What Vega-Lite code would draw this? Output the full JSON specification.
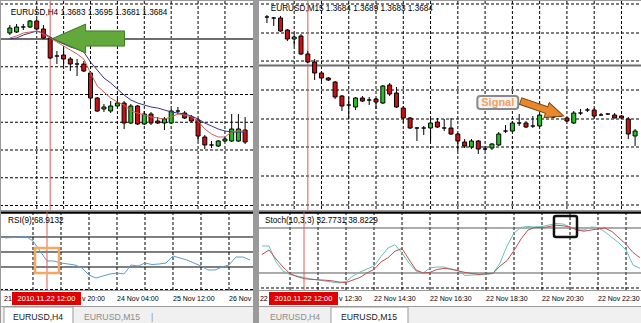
{
"$schema":"https://vega.github.io/schema/vega-lite/v6.json",
"padding":0,
"background":"#9a9a9a",
"columns":2,
"spacing":{"row":0,"column":4},
"config":{"view":{"stroke":null},"font":"Liberation Sans","axis":{"grid":false,"labels":false,"ticks":false,"domain":false}},
"datasets":{
"h4":[
{"i":1,"o":1.3708,"h":1.3740,"l":1.3700,"c":1.3728,"mb":1.3684,"mr":1.3688,"rsi":68.7},
{"i":2,"o":1.3712,"h":1.3744,"l":1.3708,"c":1.3732,"mb":1.3688,"mr":1.3696,"rsi":69.3},
{"i":3,"o":1.3732,"h":1.3744,"l":1.3720,"c":1.3732,"mb":1.3700,"mr":1.3708,"rsi":70},
{"i":4,"o":1.3732,"h":1.3760,"l":1.3728,"c":1.3756,"mb":1.3708,"mr":1.3712,"rsi":70.7},
{"i":5,"o":1.3756,"h":1.3764,"l":1.3720,"c":1.3724,"mb":1.3716,"mr":1.3716,"rsi":64.7},
{"i":6,"o":1.3724,"h":1.3740,"l":1.3684,"c":1.3688,"mb":1.3708,"mr":1.3704,"rsi":51.3},
{"i":7,"o":1.3688,"h":1.3692,"l":1.3604,"c":1.3608,"mb":1.3692,"mr":1.3688,"rsi":38},
{"i":8,"o":1.3616,"h":1.3636,"l":1.3584,"c":1.3616,"mb":1.3676,"mr":1.3672,"rsi":38},
{"i":9,"o":1.3620,"h":1.3648,"l":1.3576,"c":1.3604,"mb":1.3664,"mr":1.3656,"rsi":35.3},
{"i":10,"o":1.3604,"h":1.3612,"l":1.3556,"c":1.3584,"mb":1.3652,"mr":1.3640,"rsi":34},
{"i":11,"o":1.3584,"h":1.3604,"l":1.3536,"c":1.3584,"mb":1.3644,"mr":1.3624,"rsi":32.7},
{"i":12,"o":1.3584,"h":1.3596,"l":1.3552,"c":1.3556,"mb":1.3632,"mr":1.3604,"rsi":28.7},
{"i":13,"o":1.3548,"h":1.3556,"l":1.3416,"c":1.3448,"mb":1.3592,"mr":1.3548,"rsi":19.3},
{"i":14,"o":1.3448,"h":1.3452,"l":1.3392,"c":1.3396,"mb":1.3560,"mr":1.3496,"rsi":15.3},
{"i":15,"o":1.3404,"h":1.3424,"l":1.3392,"c":1.3412,"mb":1.3528,"mr":1.3472,"rsi":18},
{"i":16,"o":1.3396,"h":1.3436,"l":1.3388,"c":1.3416,"mb":1.3508,"mr":1.3448,"rsi":20.7},
{"i":17,"o":1.3416,"h":1.3444,"l":1.3412,"c":1.3428,"mb":1.3484,"mr":1.3432,"rsi":22},
{"i":18,"o":1.3428,"h":1.3436,"l":1.3324,"c":1.3348,"mb":1.3460,"mr":1.3420,"rsi":20.7},
{"i":19,"o":1.3348,"h":1.3424,"l":1.3344,"c":1.3416,"mb":1.3440,"mr":1.3396,"rsi":32.7},
{"i":20,"o":1.3416,"h":1.3420,"l":1.3340,"c":1.3344,"mb":1.3428,"mr":1.3388,"rsi":31.3},
{"i":21,"o":1.3344,"h":1.3396,"l":1.3340,"c":1.3384,"mb":1.3420,"mr":1.3380,"rsi":35.3},
{"i":22,"o":1.3384,"h":1.3392,"l":1.3340,"c":1.3348,"mb":1.3412,"mr":1.3372,"rsi":33.3},
{"i":23,"o":1.3356,"h":1.3372,"l":1.3344,"c":1.3348,"mb":1.3408,"mr":1.3368,"rsi":34},
{"i":24,"o":1.3348,"h":1.3372,"l":1.3320,"c":1.3364,"mb":1.3400,"mr":1.3364,"rsi":35.3},
{"i":25,"o":1.3348,"h":1.3404,"l":1.3344,"c":1.3396,"mb":1.3392,"mr":1.3372,"rsi":44.7},
{"i":26,"o":1.3396,"h":1.3412,"l":1.3384,"c":1.3396,"mb":1.3388,"mr":1.3384,"rsi":42},
{"i":27,"o":1.3388,"h":1.3396,"l":1.3364,"c":1.3368,"mb":1.3384,"mr":1.3380,"rsi":39.3},
{"i":28,"o":1.3372,"h":1.3380,"l":1.3352,"c":1.3356,"mb":1.3376,"mr":1.3372,"rsi":35.3},
{"i":29,"o":1.3360,"h":1.3368,"l":1.3276,"c":1.3296,"mb":1.3364,"mr":1.3356,"rsi":31.3},
{"i":30,"o":1.3292,"h":1.3300,"l":1.3244,"c":1.3260,"mb":1.3348,"mr":1.3324,"rsi":26},
{"i":31,"o":1.3260,"h":1.3276,"l":1.3248,"c":1.3260,"mb":1.3336,"mr":1.3304,"rsi":26},
{"i":32,"o":1.3256,"h":1.3280,"l":1.3252,"c":1.3276,"mb":1.3324,"mr":1.3292,"rsi":30},
{"i":33,"o":1.3276,"h":1.3292,"l":1.3272,"c":1.3284,"mb":1.3316,"mr":1.3292,"rsi":32.7},
{"i":34,"o":1.3276,"h":1.3384,"l":1.3272,"c":1.3324,"mb":1.3312,"mr":1.3312,"rsi":43.3},
{"i":35,"o":1.3276,"h":1.3384,"l":1.3272,"c":1.3324,"mb":1.3312,"mr":1.3316,"rsi":43.3},
{"i":36,"o":1.3320,"h":1.3372,"l":1.3264,"c":1.3272,"mb":1.3312,"mr":1.3316,"rsi":39.3}
],
"m15":[
{"i":1,"o":1.3732,"h":1.3734,"l":1.3726,"c":1.3732,"k":56,"d":44.7},
{"i":2,"o":1.3731,"h":1.3732,"l":1.3723,"c":1.3731,"k":56,"d":50.7},
{"i":3,"o":1.3731,"h":1.3733,"l":1.3717,"c":1.3718,"k":34.7,"d":38.7},
{"i":4,"o":1.3719,"h":1.3720,"l":1.3708,"c":1.3710,"k":22.7,"d":28},
{"i":5,"o":1.3710,"h":1.3715,"l":1.3703,"c":1.3712,"k":18,"d":19.1},
{"i":6,"o":1.3713,"h":1.3715,"l":1.3694,"c":1.3695,"k":16,"d":15.3},
{"i":7,"o":1.3695,"h":1.3698,"l":1.3686,"c":1.3687,"k":14,"d":12.4},
{"i":8,"o":1.3687,"h":1.3690,"l":1.3669,"c":1.3676,"k":12,"d":11.6},
{"i":9,"o":1.3676,"h":1.3678,"l":1.3668,"c":1.3671,"k":10.7,"d":10.9},
{"i":10,"o":1.3671,"h":1.3672,"l":1.3668,"c":1.3669,"k":9.3,"d":10.4},
{"i":11,"o":1.3667,"h":1.3668,"l":1.3650,"c":1.3652,"k":8,"d":9.6},
{"i":12,"o":1.3653,"h":1.3654,"l":1.3638,"c":1.3643,"k":6.7,"d":8},
{"i":13,"o":1.3644,"h":1.3652,"l":1.3630,"c":1.3644,"k":8.7,"d":7.2},
{"i":14,"o":1.3642,"h":1.3652,"l":1.3639,"c":1.3651,"k":16,"d":10.7},
{"i":15,"o":1.3651,"h":1.3653,"l":1.3647,"c":1.3648,"k":21.3,"d":14.1},
{"i":16,"o":1.3649,"h":1.3652,"l":1.3644,"c":1.3649,"k":25.3,"d":20},
{"i":17,"o":1.3650,"h":1.3651,"l":1.3640,"c":1.3647,"k":29.3,"d":24.8},
{"i":18,"o":1.3646,"h":1.3664,"l":1.3645,"c":1.3663,"k":42,"d":34.7},
{"i":19,"o":1.3664,"h":1.3666,"l":1.3653,"c":1.3655,"k":53.3,"d":40.4},
{"i":20,"o":1.3656,"h":1.3662,"l":1.3641,"c":1.3642,"k":57.7,"d":49.1},
{"i":21,"o":1.3641,"h":1.3643,"l":1.3626,"c":1.3631,"k":46.7,"d":52.7},
{"i":22,"o":1.3631,"h":1.3632,"l":1.3620,"c":1.3621,"k":33.3,"d":38},
{"i":23,"o":1.3621,"h":1.3622,"l":1.3608,"c":1.3621,"k":22.7,"d":24},
{"i":24,"o":1.3621,"h":1.3623,"l":1.3614,"c":1.3621,"k":20,"d":20},
{"i":25,"o":1.3621,"h":1.3631,"l":1.3608,"c":1.3626,"k":26.7,"d":20.9},
{"i":26,"o":1.3627,"h":1.3631,"l":1.3621,"c":1.3622,"k":28,"d":24.7},
{"i":27,"o":1.3621,"h":1.3630,"l":1.3618,"c":1.3621,"k":28,"d":26.1},
{"i":28,"o":1.3621,"h":1.3631,"l":1.3614,"c":1.3615,"k":25.3,"d":25.1},
{"i":29,"o":1.3615,"h":1.3616,"l":1.3598,"c":1.3608,"k":23.6,"d":22.9},
{"i":30,"o":1.3607,"h":1.3610,"l":1.3601,"c":1.3603,"k":16.7,"d":20.8},
{"i":31,"o":1.3602,"h":1.3610,"l":1.3600,"c":1.3608,"k":17.3,"d":19.3},
{"i":32,"o":1.3608,"h":1.3609,"l":1.3595,"c":1.3600,"k":17.7,"d":18.1},
{"i":33,"o":1.3600,"h":1.3603,"l":1.3598,"c":1.3600,"k":18,"d":18.8},
{"i":34,"o":1.3601,"h":1.3606,"l":1.3599,"c":1.3605,"k":19.3,"d":19.7},
{"i":35,"o":1.3604,"h":1.3617,"l":1.3603,"c":1.3615,"k":33.3,"d":29.3},
{"i":36,"o":1.3618,"h":1.3624,"l":1.3616,"c":1.3618,"k":56,"d":36.5},
{"i":37,"o":1.3618,"h":1.3628,"l":1.3617,"c":1.3626,"k":73.3,"d":50},
{"i":38,"o":1.3626,"h":1.3635,"l":1.3623,"c":1.3626,"k":80.7,"d":65.3},
{"i":39,"o":1.3626,"h":1.3628,"l":1.3621,"c":1.3622,"k":82,"d":77.3},
{"i":40,"o":1.3623,"h":1.3633,"l":1.3621,"c":1.3623,"k":81.3,"d":80.9},
{"i":41,"o":1.3623,"h":1.3635,"l":1.3622,"c":1.3634,"k":82,"d":80.3},
{"i":42,"o":1.3632,"h":1.3633,"l":1.3631,"c":1.3632,"k":84,"d":81.9},
{"i":43,"o":1.3632,"h":1.3633,"l":1.3631,"c":1.3632,"k":86,"d":83.7},
{"i":44,"o":1.3633,"h":1.3634,"l":1.3632,"c":1.3633,"k":85.3,"d":82.9},
{"i":45,"o":1.3631,"h":1.3632,"l":1.3627,"c":1.3628,"k":81.3,"d":81.3},
{"i":46,"o":1.3626,"h":1.3638,"l":1.3625,"c":1.3636,"k":77.3,"d":77.6},
{"i":47,"o":1.3636,"h":1.3640,"l":1.3634,"c":1.3636,"k":77.3,"d":75.7},
{"i":48,"o":1.3639,"h":1.3641,"l":1.3637,"c":1.3639,"k":81.3,"d":77.3},
{"i":49,"o":1.3639,"h":1.3641,"l":1.3631,"c":1.3633,"k":80.7,"d":78.7},
{"i":50,"o":1.3634,"h":1.3636,"l":1.3633,"c":1.3634,"k":74.7,"d":79.9},
{"i":51,"o":1.3635,"h":1.3636,"l":1.3634,"c":1.3635,"k":67.3,"d":75.2},
{"i":52,"o":1.3634,"h":1.3636,"l":1.3631,"c":1.3631,"k":60,"d":66.7},
{"i":53,"o":1.3633,"h":1.3634,"l":1.3630,"c":1.3631,"k":50.7,"d":58.3},
{"i":54,"o":1.3630,"h":1.3632,"l":1.3610,"c":1.3615,"k":30.7,"d":47.3},
{"i":55,"o":1.3613,"h":1.3620,"l":1.3603,"c":1.3618,"k":26.3,"d":40.4}
],
"gxL":[{"v":5},{"v":9},{"v":13},{"v":17},{"v":21},{"v":25},{"v":29},{"v":33}],
"gxR":[{"v":5},{"v":9},{"v":13},{"v":17},{"v":21},{"v":25},{"v":29},{"v":33},{"v":37},{"v":41},{"v":45},{"v":49},{"v":53}],
"gyL":[{"v":1.3824},{"v":1.3684},{"v":1.3573},{"v":1.3462},{"v":1.3351},{"v":1.324},{"v":1.3129},{"v":1.3018}],
"gyR":[{"v":1.3745},{"v":1.3716},{"v":1.3688},{"v":1.3659},{"v":1.363},{"v":1.3602},{"v":1.3573},{"v":1.3544}]
},
"concat":[
  {"width":252,"height":209,"view":{"fill":"#ffffff","stroke":null},
   "layer":[
    {"data":{"name":"gxL"},"mark":{"type":"rule","color":"#000000","strokeWidth":1,"strokeDash":[3,2]},
     "encoding":{"x":{"field":"v","type":"quantitative","scale":{"domain":[0.4286,36.4286],"nice":false,"zero":false},"axis":null}}},
    {"data":{"name":"gyL"},"mark":{"type":"rule","color":"#000000","strokeWidth":1,"strokeDash":[3,2]},
     "encoding":{"y":{"field":"v","type":"quantitative","scale":{"domain":[1.3,1.3836],"nice":false,"zero":false},"axis":null}}},
    {"data":{"values":[{}]},"mark":{"type":"rule","color":"#6e6e6e","strokeWidth":2},
     "encoding":{"y":{"datum":1.3684,"type":"quantitative","scale":{"domain":[1.3,1.3836],"nice":false,"zero":false},"axis":null}}},
    {"data":{"values":[{}]},"mark":{"type":"rule","color":"#e05a5a","strokeWidth":1},
     "encoding":{"x":{"datum":7,"type":"quantitative","scale":{"domain":[0.4286,36.4286],"nice":false,"zero":false},"axis":null}}},
    {"data":{"name":"h4"},"mark":{"type":"rule","color":"#000000","strokeWidth":1,"clip":true},
     "encoding":{"x":{"field":"i","type":"quantitative","scale":{"domain":[0.4286,36.4286],"nice":false,"zero":false},"axis":null},"y":{"field":"l","type":"quantitative","scale":{"domain":[1.3,1.3836],"nice":false,"zero":false},"axis":null},"y2":{"field":"h"}}},
    {"data":{"name":"h4"},"mark":{"type":"bar","width":4,"stroke":"#000000","strokeWidth":1,"clip":true},
     "encoding":{"x":{"field":"i","type":"quantitative","scale":{"domain":[0.4286,36.4286],"nice":false,"zero":false},"axis":null},"y":{"field":"o","type":"quantitative","scale":{"domain":[1.3,1.3836],"nice":false,"zero":false},"axis":null},"y2":{"field":"c"},
      "fill":{"condition":[{"test":"datum.c > datum.o","value":"#22c322"},{"test":"datum.c < datum.o","value":"#d01010"}],"value":"#000000"}}},
    {"data":{"name":"h4"},"mark":{"type":"line","color":"#34348c","strokeWidth":1,"clip":true},
     "encoding":{"x":{"field":"i","type":"quantitative","scale":{"domain":[0.4286,36.4286],"nice":false,"zero":false},"axis":null},"y":{"field":"mb","type":"quantitative","scale":{"domain":[1.3,1.3836],"nice":false,"zero":false},"axis":null}}},
    {"data":{"name":"h4"},"mark":{"type":"line","color":"#d06050","strokeWidth":1,"clip":true},
     "encoding":{"x":{"field":"i","type":"quantitative","scale":{"domain":[0.4286,36.4286],"nice":false,"zero":false},"axis":null},"y":{"field":"mr","type":"quantitative","scale":{"domain":[1.3,1.3836],"nice":false,"zero":false},"axis":null}}},
    {"data":{"values":[{}]},"mark":{"type":"point","shape":"M-1,0L-0.083,-0.4L-0.083,-0.21L1,-0.21L1,0.21L-0.083,0.21L-0.083,0.4Z","size":5184,"filled":true,"fill":"#62a83a","stroke":"#3f7a22","strokeWidth":1,"opacity":1},
     "encoding":{"x":{"datum":12.714,"type":"quantitative","scale":{"domain":[0.4286,36.4286],"nice":false,"zero":false},"axis":null},"y":{"datum":1.3686,"type":"quantitative","scale":{"domain":[1.3,1.3836],"nice":false,"zero":false},"axis":null}}},
    {"data":{"values":[{}]},"mark":{"type":"text","align":"left","baseline":"middle","fontSize":8.2,"color":"#000000"},
     "encoding":{"x":{"datum":1.143,"type":"quantitative","scale":{"domain":[0.4286,36.4286],"nice":false,"zero":false},"axis":null},"y":{"datum":1.3788,"type":"quantitative","scale":{"domain":[1.3,1.3836],"nice":false,"zero":false},"axis":null},"text":{"value":"EURUSD,H4  1.3683 1.3695 1.3681 1.3684"}}}
   ]},
  {"width":385,"height":209,"view":{"fill":"#ffffff","stroke":null},
   "layer":[
    {"data":{"name":"gxR"},"mark":{"type":"rule","color":"#000000","strokeWidth":1,"strokeDash":[3,2]},
     "encoding":{"x":{"field":"v","type":"quantitative","scale":{"domain":[0.5714,55.5714],"nice":false,"zero":false},"axis":null}}},
    {"data":{"name":"gyR"},"mark":{"type":"rule","color":"#000000","strokeWidth":1,"strokeDash":[3,2]},
     "encoding":{"y":{"field":"v","type":"quantitative","scale":{"domain":[1.3539,1.3748],"nice":false,"zero":false},"axis":null}}},
    {"data":{"values":[{}]},"mark":{"type":"rule","color":"#6e6e6e","strokeWidth":2},
     "encoding":{"y":{"datum":1.36835,"type":"quantitative","scale":{"domain":[1.3539,1.3748],"nice":false,"zero":false},"axis":null}}},
    {"data":{"values":[{}]},"mark":{"type":"rule","color":"#e05a5a","strokeWidth":1},
     "encoding":{"x":{"datum":7,"type":"quantitative","scale":{"domain":[0.5714,55.5714],"nice":false,"zero":false},"axis":null}}},
    {"data":{"name":"m15"},"mark":{"type":"rule","color":"#000000","strokeWidth":1,"clip":true},
     "encoding":{"x":{"field":"i","type":"quantitative","scale":{"domain":[0.5714,55.5714],"nice":false,"zero":false},"axis":null},"y":{"field":"l","type":"quantitative","scale":{"domain":[1.3539,1.3748],"nice":false,"zero":false},"axis":null},"y2":{"field":"h"}}},
    {"data":{"name":"m15"},"mark":{"type":"bar","width":4,"stroke":"#000000","strokeWidth":1,"clip":true},
     "encoding":{"x":{"field":"i","type":"quantitative","scale":{"domain":[0.5714,55.5714],"nice":false,"zero":false},"axis":null},"y":{"field":"o","type":"quantitative","scale":{"domain":[1.3539,1.3748],"nice":false,"zero":false},"axis":null},"y2":{"field":"c"},
      "fill":{"condition":[{"test":"datum.c > datum.o","value":"#22c322"},{"test":"datum.c < datum.o","value":"#d01010"}],"value":"#000000"}}},
    {"data":{"values":[{}]},"mark":{"type":"rect","fill":"#f4f4f4","stroke":"#8a8a8a","strokeWidth":2,"cornerRadius":3},
     "encoding":{"x":{"datum":31.86,"type":"quantitative","scale":{"domain":[0.5714,55.5714],"nice":false,"zero":false},"axis":null},"x2":{"datum":37.86},"y":{"datum":1.3653,"type":"quantitative","scale":{"domain":[1.3539,1.3748],"nice":false,"zero":false},"axis":null},"y2":{"datum":1.364}}},
    {"data":{"values":[{}]},"mark":{"type":"text","align":"center","baseline":"middle","fontSize":11,"fontWeight":"bold","color":"#f2a25c"},
     "encoding":{"x":{"datum":34.86,"type":"quantitative","scale":{"domain":[0.5714,55.5714],"nice":false,"zero":false},"axis":null},"y":{"datum":1.36465,"type":"quantitative","scale":{"domain":[1.3539,1.3748],"nice":false,"zero":false},"axis":null},"text":{"value":"Signal"}}},
    {"data":{"values":[{}]},"mark":{"type":"point","shape":"M1,0L0.21,-0.35L0.21,-0.15L-1,-0.15L-1,0.15L0.21,0.15L0.21,0.35Z","size":2070,"angle":19,"filled":true,"fill":"#e8882a","stroke":"#7a4a1a","strokeWidth":1,"opacity":1},
     "encoding":{"x":{"datum":41.36,"type":"quantitative","scale":{"domain":[0.5714,55.5714],"nice":false,"zero":false},"axis":null},"y":{"datum":1.36405,"type":"quantitative","scale":{"domain":[1.3539,1.3748],"nice":false,"zero":false},"axis":null}}},
    {"data":{"values":[{}]},"mark":{"type":"text","align":"left","baseline":"middle","fontSize":8.2,"color":"#000000"},
     "encoding":{"x":{"datum":1.571,"type":"quantitative","scale":{"domain":[0.5714,55.5714],"nice":false,"zero":false},"axis":null},"y":{"datum":1.374,"type":"quantitative","scale":{"domain":[1.3539,1.3748],"nice":false,"zero":false},"axis":null},"text":{"value":"EURUSD,M15  1.3684 1.3689 1.3683 1.3684"}}}
   ]},
  {"width":252,"height":78,"view":{"fill":"#ffffff","stroke":null},
   "layer":[
    {"data":{"name":"gxL"},"mark":{"type":"rule","color":"#000000","strokeWidth":1,"strokeDash":[3,2]},
     "encoding":{"x":{"field":"v","type":"quantitative","scale":{"domain":[0.4286,36.4286],"nice":false,"zero":false},"axis":null}}},
    {"data":{"values":[{"v":0}]},"mark":{"type":"rule","color":"#000000","strokeWidth":1,"strokeDash":[3,2]},
     "encoding":{"y":{"field":"v","type":"quantitative","scale":{"domain":[-0.6667,103.33],"nice":false,"zero":false},"axis":null}}},
    {"data":{"values":[{"v":70},{"v":50},{"v":30}]},"mark":{"type":"rule","color":"#000000","strokeWidth":1},
     "encoding":{"y":{"field":"v","type":"quantitative","scale":{"domain":[-0.6667,103.33],"nice":false,"zero":false},"axis":null}}},
    {"data":{"values":[{}]},"mark":{"type":"rule","color":"#000000","strokeWidth":2},
     "encoding":{"y":{"datum":102.3,"type":"quantitative","scale":{"domain":[-0.6667,103.33],"nice":false,"zero":false},"axis":null}}},
    {"data":{"name":"h4"},"mark":{"type":"line","color":"#5b9bd5","strokeWidth":1,"clip":true},
     "encoding":{"x":{"field":"i","type":"quantitative","scale":{"domain":[0.4286,36.4286],"nice":false,"zero":false},"axis":null},"y":{"field":"rsi","type":"quantitative","scale":{"domain":[-0.6667,103.33],"nice":false,"zero":false},"axis":null}}},
    {"data":{"values":[{}]},"mark":{"type":"rule","color":"#e05a5a","strokeWidth":1},
     "encoding":{"x":{"datum":7,"type":"quantitative","scale":{"domain":[0.4286,36.4286],"nice":false,"zero":false},"axis":null}}},
    {"data":{"values":[{}]},"mark":{"type":"rect","fillOpacity":0,"stroke":"#f5a862","strokeWidth":2.5},
     "encoding":{"x":{"datum":5.29,"type":"quantitative","scale":{"domain":[0.4286,36.4286],"nice":false,"zero":false},"axis":null},"x2":{"datum":8.71},"y":{"datum":22,"type":"quantitative","scale":{"domain":[-0.6667,103.33],"nice":false,"zero":false},"axis":null},"y2":{"datum":55.3}}},
    {"data":{"values":[{}]},"mark":{"type":"text","align":"left","baseline":"middle","fontSize":8.2,"color":"#000000"},
     "encoding":{"x":{"datum":1.43,"type":"quantitative","scale":{"domain":[0.4286,36.4286],"nice":false,"zero":false},"axis":null},"y":{"datum":91.3,"type":"quantitative","scale":{"domain":[-0.6667,103.33],"nice":false,"zero":false},"axis":null},"text":{"value":"RSI(9) 68.9132"}}}
   ]},
  {"width":385,"height":78,"view":{"fill":"#ffffff","stroke":null},
   "layer":[
    {"data":{"name":"gxR"},"mark":{"type":"rule","color":"#000000","strokeWidth":1,"strokeDash":[3,2]},
     "encoding":{"x":{"field":"v","type":"quantitative","scale":{"domain":[0.5714,55.5714],"nice":false,"zero":false},"axis":null}}},
    {"data":{"values":[{"v":0}]},"mark":{"type":"rule","color":"#000000","strokeWidth":1,"strokeDash":[3,2]},
     "encoding":{"y":{"field":"v","type":"quantitative","scale":{"domain":[-2.6667,101.33],"nice":false,"zero":false},"axis":null}}},
    {"data":{"values":[{"v":80},{"v":20}]},"mark":{"type":"rule","color":"#5a5a5a","strokeWidth":1},
     "encoding":{"y":{"field":"v","type":"quantitative","scale":{"domain":[-2.6667,101.33],"nice":false,"zero":false},"axis":null}}},
    {"data":{"values":[{}]},"mark":{"type":"rule","color":"#000000","strokeWidth":2},
     "encoding":{"y":{"datum":100.3,"type":"quantitative","scale":{"domain":[-2.6667,101.33],"nice":false,"zero":false},"axis":null}}},
    {"data":{"name":"m15"},"mark":{"type":"line","color":"#66c2b8","strokeWidth":1,"clip":true},
     "encoding":{"x":{"field":"i","type":"quantitative","scale":{"domain":[0.5714,55.5714],"nice":false,"zero":false},"axis":null},"y":{"field":"k","type":"quantitative","scale":{"domain":[-2.6667,101.33],"nice":false,"zero":false},"axis":null}}},
    {"data":{"name":"m15"},"mark":{"type":"line","color":"#c0504d","strokeWidth":1,"clip":true},
     "encoding":{"x":{"field":"i","type":"quantitative","scale":{"domain":[0.5714,55.5714],"nice":false,"zero":false},"axis":null},"y":{"field":"d","type":"quantitative","scale":{"domain":[-2.6667,101.33],"nice":false,"zero":false},"axis":null}}},
    {"data":{"values":[{}]},"mark":{"type":"rule","color":"#e05a5a","strokeWidth":1},
     "encoding":{"x":{"datum":7,"type":"quantitative","scale":{"domain":[0.5714,55.5714],"nice":false,"zero":false},"axis":null}}},
    {"data":{"values":[{}]},"mark":{"type":"rect","fillOpacity":0,"stroke":"#111111","strokeWidth":2.5,"cornerRadius":2},
     "encoding":{"x":{"datum":42.71,"type":"quantitative","scale":{"domain":[0.5714,55.5714],"nice":false,"zero":false},"axis":null},"x2":{"datum":46.0},"y":{"datum":68,"type":"quantitative","scale":{"domain":[-2.6667,101.33],"nice":false,"zero":false},"axis":null},"y2":{"datum":96}}},
    {"data":{"values":[{}]},"mark":{"type":"text","align":"left","baseline":"middle","fontSize":8.2,"color":"#000000"},
     "encoding":{"x":{"datum":1.43,"type":"quantitative","scale":{"domain":[0.5714,55.5714],"nice":false,"zero":false},"axis":null},"y":{"datum":89.3,"type":"quantitative","scale":{"domain":[-2.6667,101.33],"nice":false,"zero":false},"axis":null},"text":{"value":"Stoch(10,3,3) 32.7731 38.8229"}}}
   ]},
  {"width":252,"height":15,"view":{"fill":"#ffffff","stroke":null},
   "layer":[
    {"data":{"values":[{"i":0.86,"t":"21"},{"i":12.0,"t":"v 20:00"},{"i":17,"t":"24 Nov 04:00"},{"i":25,"t":"25 Nov 12:00"},{"i":33,"t":"26 Nov"}]},
     "mark":{"type":"text","align":"left","baseline":"middle","fontSize":7,"color":"#000000","clip":true},
     "encoding":{"x":{"field":"i","type":"quantitative","scale":{"domain":[0.4286,36.4286],"nice":false,"zero":false},"axis":null},"y":{"datum":7.5,"type":"quantitative","scale":{"domain":[15,0],"nice":false,"zero":false},"axis":null},"text":{"field":"t"}}},
    {"data":{"values":[{}]},"mark":{"type":"rect","color":"#e00000"},
     "encoding":{"x":{"datum":2.0,"type":"quantitative","scale":{"domain":[0.4286,36.4286],"nice":false,"zero":false},"axis":null},"x2":{"datum":11.857},"y":{"datum":1,"type":"quantitative","scale":{"domain":[15,0],"nice":false,"zero":false},"axis":null},"y2":{"datum":14}}},
    {"data":{"values":[{}]},"mark":{"type":"text","align":"center","baseline":"middle","fontSize":7.5,"color":"#ffffff"},
     "encoding":{"x":{"datum":6.93,"type":"quantitative","scale":{"domain":[0.4286,36.4286],"nice":false,"zero":false},"axis":null},"y":{"datum":7.5,"type":"quantitative","scale":{"domain":[15,0],"nice":false,"zero":false},"axis":null},"text":{"value":"2010.11.22 12:00"}}}
   ]},
  {"width":385,"height":15,"view":{"fill":"#ffffff","stroke":null},
   "layer":[
    {"data":{"values":[{"i":0.71,"t":"22"},{"i":12.0,"t":"v 12:30"},{"i":17,"t":"22 Nov 14:30"},{"i":25,"t":"22 Nov 16:30"},{"i":33,"t":"22 Nov 18:30"},{"i":41,"t":"22 Nov 20:30"},{"i":49,"t":"22 Nov 22:30"}]},
     "mark":{"type":"text","align":"left","baseline":"middle","fontSize":7,"color":"#000000","clip":true},
     "encoding":{"x":{"field":"i","type":"quantitative","scale":{"domain":[0.5714,55.5714],"nice":false,"zero":false},"axis":null},"y":{"datum":7.5,"type":"quantitative","scale":{"domain":[15,0],"nice":false,"zero":false},"axis":null},"text":{"field":"t"}}},
    {"data":{"values":[{}]},"mark":{"type":"rect","color":"#e00000"},
     "encoding":{"x":{"datum":2.0,"type":"quantitative","scale":{"domain":[0.5714,55.5714],"nice":false,"zero":false},"axis":null},"x2":{"datum":11.857},"y":{"datum":1,"type":"quantitative","scale":{"domain":[15,0],"nice":false,"zero":false},"axis":null},"y2":{"datum":14}}},
    {"data":{"values":[{}]},"mark":{"type":"text","align":"center","baseline":"middle","fontSize":7.5,"color":"#ffffff"},
     "encoding":{"x":{"datum":6.93,"type":"quantitative","scale":{"domain":[0.5714,55.5714],"nice":false,"zero":false},"axis":null},"y":{"datum":7.5,"type":"quantitative","scale":{"domain":[15,0],"nice":false,"zero":false},"axis":null},"text":{"value":"2010.11.22 12:00"}}}
   ]},
  {"width":252,"height":21,"view":{"fill":"#f0f0f0","stroke":null},
   "layer":[
    {"data":{"values":[{}]},"mark":{"type":"rect","fill":"#ffffff","stroke":"#9a9a9a","strokeWidth":1},
     "encoding":{"x":{"datum":0.857,"type":"quantitative","scale":{"domain":[0.4286,36.4286],"nice":false,"zero":false},"axis":null},"x2":{"datum":10.71},"y":{"datum":0,"type":"quantitative","scale":{"domain":[21,0],"nice":false,"zero":false},"axis":null},"y2":{"datum":18}}},
    {"data":{"values":[{"i":2.14,"t":"EURUSD,H4","a":"on"},{"i":12.29,"t":"EURUSD,M15","a":"off"},{"i":21.86,"t":"|","a":"off"}]},
     "mark":{"type":"text","align":"left","baseline":"middle","fontSize":8.7},
     "encoding":{"x":{"field":"i","type":"quantitative","scale":{"domain":[0.4286,36.4286],"nice":false,"zero":false},"axis":null},"y":{"datum":10,"type":"quantitative","scale":{"domain":[21,0],"nice":false,"zero":false},"axis":null},"text":{"field":"t"},
      "color":{"condition":{"test":"datum.a == 'on'","value":"#1a1a1a"},"value":"#8c8c8c"}}}
   ]},
  {"width":385,"height":21,"view":{"fill":"#f0f0f0","stroke":null},
   "layer":[
    {"data":{"values":[{}]},"mark":{"type":"rect","fill":"#ffffff","stroke":"#9a9a9a","strokeWidth":1},
     "encoding":{"x":{"datum":10.857,"type":"quantitative","scale":{"domain":[0.5714,55.5714],"nice":false,"zero":false},"axis":null},"x2":{"datum":21.857},"y":{"datum":0,"type":"quantitative","scale":{"domain":[21,0],"nice":false,"zero":false},"axis":null},"y2":{"datum":18}}},
    {"data":{"values":[{"i":2.14,"t":"EURUSD,H4","a":"off"},{"i":12.29,"t":"EURUSD,M15","a":"on"}]},
     "mark":{"type":"text","align":"left","baseline":"middle","fontSize":8.7},
     "encoding":{"x":{"field":"i","type":"quantitative","scale":{"domain":[0.5714,55.5714],"nice":false,"zero":false},"axis":null},"y":{"datum":10,"type":"quantitative","scale":{"domain":[21,0],"nice":false,"zero":false},"axis":null},"text":{"field":"t"},
      "color":{"condition":{"test":"datum.a == 'on'","value":"#1a1a1a"},"value":"#8c8c8c"}}}
   ]}
]
}
